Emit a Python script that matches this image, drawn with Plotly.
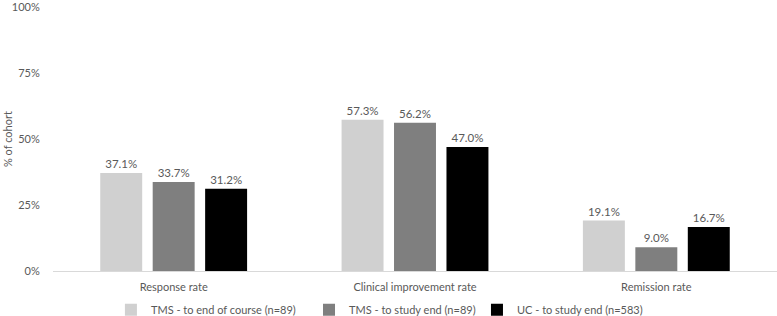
import plotly.graph_objects as go

categories = ["Response rate", "Clinical improvement rate", "Remission rate"]
series_names = ["TMS - to end of course (n=89)", "TMS - to study end (n=89)", "UC - to study end (n=583)"]
tms_course = [37.1, 57.3, 19.1]
tms_study = [33.7, 56.2, 9.0]
uc_study = [31.2, 47.0, 16.7]
colors = ["#d0d0d0", "#7f7f7f", "#000000"]
tick_vals = [0, 25, 50, 75, 100]
tick_text = ["0%", "25%", "50%", "75%", "100%"]
y_title = "% of cohort"

font_family = "Lato, Open Sans, sans-serif"
txt_color = "#595959"
legend_ids = ["legend", "legend2", "legend3"]
legend_x = [0.080, 0.3536, 0.5856]

fig = go.Figure()
for name, vals, c, lg in zip(series_names, [tms_course, tms_study, uc_study], colors, legend_ids):
    fig.add_trace(go.Bar(
        x=categories, y=vals, name=name, marker=dict(color=c, line=dict(width=0)),
        text=[f"{v:.1f}%" for v in vals], textposition="outside",
        textfont=dict(size=11.5, color=txt_color, family=font_family),
        cliponaxis=False, legend=lg,
    ))

legend_common = dict(orientation="h", xanchor="left", y=-0.092, yanchor="top",
                     font=dict(size=11, color=txt_color), itemwidth=30,
                     bgcolor="rgba(0,0,0,0)")

fig.update_layout(
    width=777, height=316,
    margin=dict(l=53, r=0, t=7, b=45, autoexpand=False),
    paper_bgcolor="white", plot_bgcolor="white",
    barmode="group", bargap=0.348, bargroupgap=0.2,
    font=dict(family=font_family, size=11, color=txt_color),
    showlegend=True,
    legend=dict(x=legend_x[0], **legend_common),
    legend2=dict(x=legend_x[1], **legend_common),
    legend3=dict(x=legend_x[2], **legend_common),
    xaxis=dict(showline=True, linecolor="#d9d9d9", linewidth=1, ticks="outside",
               ticklen=6, tickcolor="rgba(0,0,0,0)", automargin=False,
               tickfont=dict(size=11, color=txt_color), showgrid=False),
    yaxis=dict(range=[0, 100], tickmode="array", tickvals=tick_vals, ticktext=tick_text,
               showgrid=False, zeroline=False, showline=False, ticks="outside", ticklen=10,
               tickcolor="rgba(0,0,0,0)", tickfont=dict(size=11, color=txt_color),
               automargin=False, ticklabeloverflow="allow"),
    annotations=[dict(text=y_title, textangle=-90, xref="paper", yref="paper",
                      x=-0.0635, y=0.5, xanchor="center", yanchor="middle",
                      showarrow=False, font=dict(size=11, color=txt_color))],
)

fig.write_html("out.html", config={"displayModeBar": False},
               post_script="document.body.style.margin='0';")
